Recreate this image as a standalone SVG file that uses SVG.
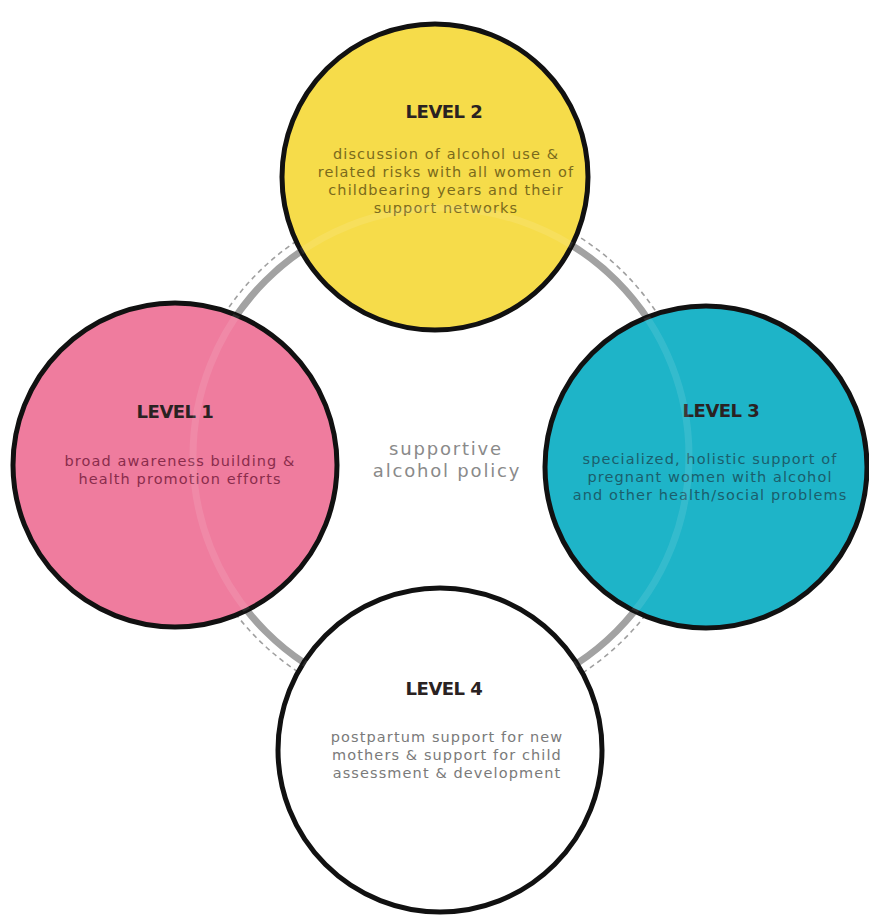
<svg xmlns="http://www.w3.org/2000/svg" width="869" height="921" viewBox="0 0 869 921">
<style>
.node{stroke:#111;stroke-width:5}
.title{font-family:"DejaVu Sans","Liberation Sans",sans-serif;font-weight:bold;font-size:18px;fill:#2a2222;text-anchor:middle;letter-spacing:-0.5px}
.body{font-family:"DejaVu Sans","Liberation Sans",sans-serif;font-size:14.5px;text-anchor:middle;letter-spacing:1.1px}
.center{font-family:"DejaVu Sans","Liberation Sans",sans-serif;font-size:18px;fill:#8a8a8a;text-anchor:middle;letter-spacing:1.8px}
</style>
<defs>
<clipPath id="inside">
<circle cx="435" cy="177" r="153"/>
<circle cx="175" cy="465" r="162"/>
<circle cx="706" cy="467" r="161"/>
<circle cx="440" cy="750" r="162"/>
</clipPath>
</defs>
<rect width="869" height="921" fill="#ffffff"/>
<g id="connectors">
<circle cx="441" cy="456" r="248" fill="none" stroke="#a2a2a2" stroke-width="7"/>
<circle cx="441" cy="456" r="259" fill="none" stroke="#a0a0a0" stroke-width="1.6" stroke-dasharray="5 4"/>
</g>
<g id="level2">
<circle class="node" cx="435" cy="177" r="153" fill="#f6dc4a"/>
<text class="title" x="444" y="118">LEVEL 2</text>
<text class="body" fill="#7a6a1c"><tspan x="446" y="159">discussion of alcohol use &amp;</tspan><tspan x="446" y="177">related risks with all women of</tspan><tspan x="446" y="195">childbearing years and their</tspan><tspan x="446" y="213">support networks</tspan></text>
</g>
<g id="level1">
<circle class="node" cx="175" cy="465" r="162" fill="#ef7c9e"/>
<text class="title" x="175" y="418">LEVEL 1</text>
<text class="body" fill="#8a2c4c"><tspan x="180" y="466">broad awareness building &amp;</tspan><tspan x="180" y="484">health promotion efforts</tspan></text>
</g>
<g id="level3">
<circle class="node" cx="706" cy="467" r="161" fill="#1eb4c8"/>
<text class="title" x="721" y="417">LEVEL 3</text>
<text class="body" fill="#1b5e6c"><tspan x="710" y="464">specialized, holistic support of</tspan><tspan x="710" y="482">pregnant women with alcohol</tspan><tspan x="710" y="500">and other health/social problems</tspan></text>
</g>
<g id="level4">
<circle class="node" cx="440" cy="750" r="162" fill="#ffffff"/>
<text class="title" x="444" y="695">LEVEL 4</text>
<text class="body" fill="#7a7a7a"><tspan x="447" y="742">postpartum support for new</tspan><tspan x="447" y="760">mothers &amp; support for child</tspan><tspan x="447" y="778">assessment &amp; development</tspan></text>
</g>
<g id="ring-through" clip-path="url(#inside)">
<circle cx="441" cy="456" r="248" fill="none" stroke="#ffffff" stroke-opacity="0.1" stroke-width="7"/>
</g>
<g id="policy">
<text class="center" x="446" y="455">supportive</text>
<text class="center" x="447" y="477">alcohol policy</text>
</g>
</svg>
